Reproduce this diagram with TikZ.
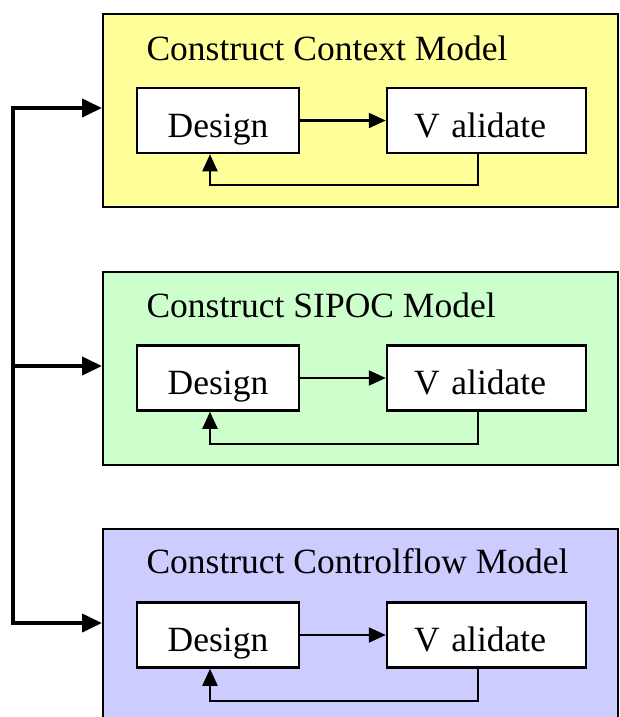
\documentclass[tikz,border=0pt]{standalone}
\usepackage{fontspec}
\setmainfont{Liberation Serif}
\usetikzlibrary{arrows.meta}
\definecolor{ctxyellow}{HTML}{FFFF99}
\definecolor{sipgreen}{HTML}{CCFFCC}
\definecolor{cfblue}{HTML}{CCCCFF}
\begin{document}
\begin{tikzpicture}[x=1pt, y=-1pt,
  every node/.style={font=\fontsize{35.5}{40}\selectfont},
  phase/.style={draw, line width=2pt, anchor=north west, minimum width=515pt, minimum height=193pt, inner sep=0pt},
  task/.style={draw, fill=white, line width=2.5pt, minimum height=65pt, inner sep=0pt, text height=33pt, text depth=0pt},
  flow/.style={line width=2.2pt, -{Triangle[length=17pt, width=15pt]}},
  main/.style={line width=4pt, line join=miter, -{Triangle[length=20pt, width=18pt]}}]
\useasboundingbox[fill=white] (0,0) rectangle (619,717);
\clip (0,0) rectangle (619,717);
% phases
\node[phase, fill=ctxyellow] (ctx) at (102,13){};
\node[phase, fill=sipgreen] (sip) at (102,271){};
\node[phase, fill=cfblue] (cf) at (102,528){};
\node[anchor=base west] (ctxtitle) at (143,60){Construct Context Model};
\node[anchor=base west] (siptitle) at (143,317){Construct SIPOC Model};
\node[anchor=base west] (cftitle) at (143,573){Construct Controlflow Model};
% context model
\node[task, minimum width=162pt] (des0) at (218,120.5){Design};
\node[task, minimum width=199pt, text width=145pt, align=left] (val0) at (486.5,120.5){V alidate};
\draw[flow](des0) -- (val0);
\draw[flow]([xshift=-8.5pt]val0.south) -- ++(0,31) -| ([xshift=-8pt]des0.south);
% sipoc model
\node[task, minimum width=162pt] (des1) at (218,378){Design};
\node[task, minimum width=199pt, text width=145pt, align=left] (val1) at (486.5,378){V alidate};
\draw[flow](des1) -- (val1);
\draw[flow]([xshift=-8.5pt]val1.south) -- ++(0,32) -| ([xshift=-8pt]des1.south);
% controlflow model
\node[task, minimum width=162pt] (des2) at (218,635){Design};
\node[task, minimum width=199pt, text width=145pt, align=left] (val2) at (486.5,635){V alidate};
\draw[flow](des2) -- (val2);
\draw[flow]([xshift=-8.5pt]val2.south) -- ++(0,32) -| ([xshift=-8pt]des2.south);
% trunk
\coordinate (vtop) at (13,108);
\coordinate (vmid) at (13,366);
\coordinate (vbot) at (13,623);
\draw[main](vbot) -- (vtop) -- (vtop -| ctx.west);
\draw[main](vtop) -- (vbot) -- (vbot -| cf.west);
\draw[main](vmid) -- (vmid -| sip.west);

\end{tikzpicture}
\end{document}
